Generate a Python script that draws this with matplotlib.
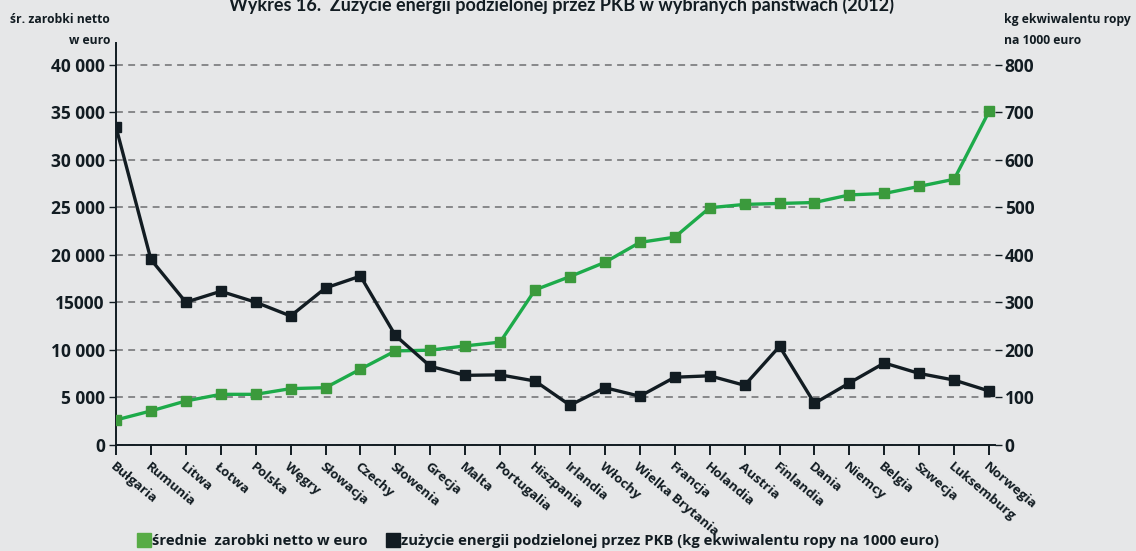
"""Energy use per GDP vs. average net earnings, selected countries (2012)."""
import matplotlib.pyplot as plt
from matplotlib.lines import Line2D
from matplotlib.ticker import FixedLocator, FixedFormatter

countries = [
    "Bułgaria", "Rumunia", "Litwa", "Łotwa", "Polska", "Węgry", "Słowacja",
    "Czechy", "Słowenia", "Grecja", "Malta", "Portugalia", "Hiszpania",
    "Irlandia", "Włochy", "Wielka Brytania", "Francja", "Holandia", "Austria",
    "Finlandia", "Dania", "Niemcy", "Belgia", "Szwecja", "Luksemburg", "Norwegia",
]
# average net earnings, euro
earnings = [
    2600, 3550, 4600, 5300, 5300, 5900, 6000, 7950, 9870, 9950, 10400, 10800,
    16300, 17700, 19200, 21300, 21850, 24950, 25300, 25400, 25500, 26300,
    26450, 27200, 27950, 35100,
]
# energy use per GDP, kg of oil equivalent per 1000 euro
energy = [
    669, 390, 300, 323, 300, 271, 330, 355, 230, 165, 146, 147, 134, 83,
    120, 102, 142, 145, 125, 207, 87, 130, 172, 150, 136, 113,
]

left_ticks = [0, 5000, 10000, 15000, 20000, 25000, 30000, 35000, 40000]
left_labels = ["0", "5 000", "10 000", "15000", "20 000", "25 000",
               "30 000", "35 000", "40 000"]
right_ticks = [0, 100, 200, 300, 400, 500, 600, 700, 800]

BG = "#e6e7e8"
DARK = "#121c22"
GREEN_LINE = "#1dab4a"
GREEN_MARK = "#3b9a3c"
FONT = ["Open Sans", "DejaVu Sans"]

plt.rcParams["font.family"] = FONT
plt.rcParams["font.weight"] = "bold"

fig = plt.figure(figsize=(11.36, 5.51), dpi=100, facecolor=BG)
ax = fig.add_axes([0.1021, 0.193, 0.7738, 0.729])
ax.set_facecolor(BG)
ax2 = ax.twinx()

x = range(len(countries))
ax.plot(x, earnings, color=GREEN_LINE, lw=2.4, marker="s", ms=6.5,
        mfc=GREEN_MARK, mec=GREEN_MARK, zorder=3)
ax2.plot(x, energy, color=DARK, lw=2.4, marker="s", ms=6.5,
         mfc=DARK, mec=DARK, zorder=3)

ax.set_xlim(0, 25.17)
ax.set_ylim(0, 42300)
ax2.set_ylim(0, 42300 / 50)

ax.yaxis.set_major_locator(FixedLocator(left_ticks))
ax.yaxis.set_major_formatter(FixedFormatter(left_labels))
ax2.set_yticks(right_ticks)
ax2.set_yticklabels([str(t) for t in right_ticks])

ax.set_xticks(list(x))
ax.set_xticklabels(countries, rotation=-40, ha="left", va="top",
                   rotation_mode="anchor", fontsize=9.6, color=DARK)

ax.grid(axis="y", color="#6d6e70", lw=1.1, ls=(0, (4.5, 3.5)))
ax.set_axisbelow(True)

for a in (ax, ax2):
    for s in ("top", "right"):
        a.spines[s].set_visible(False)
    a.spines["left"].set_visible(a is ax)
    a.spines["bottom"].set_visible(a is ax)
ax.spines["left"].set_color(DARK)
ax.spines["bottom"].set_color(DARK)
ax.spines["left"].set_linewidth(1.4)
ax.spines["bottom"].set_linewidth(1.4)

ax.tick_params(axis="y", length=5, width=1, color=DARK, labelsize=12.5,
               labelcolor=DARK, pad=3)
ax.tick_params(axis="x", length=7, width=1.4, color=DARK, pad=4)
ax2.tick_params(axis="y", length=5, width=1, color=DARK, labelsize=12.5,
                labelcolor=DARK, pad=2)

fig.text(0.494, 1 - 11 / 551,
         "Wykres 16.  Zużycie energii podzielonej przez PKB w wybranych państwach (2012)",
         ha="center", va="baseline", fontsize=13, weight="bold", color=DARK,
         family=["Lato", "DejaVu Sans"])
fig.text(110 / 1136, 1 - 13 / 551, "śr. zarobki netto\nw euro", ha="right",
         va="top", fontsize=8.7, color=DARK, linespacing=1.75)
fig.text(1004 / 1136, 1 - 13 / 551, "kg ekwiwalentu ropy\nna 1000 euro",
         ha="left", va="top", fontsize=8.7, color=DARK, linespacing=1.75)

handles = [
    Line2D([], [], ls="none", marker="s", ms=10, mfc="#58ac46", mec="#58ac46"),
    Line2D([], [], ls="none", marker="s", ms=10, mfc=DARK, mec=DARK),
]
fig.legend(handles,
           ["średnie  zarobki netto w euro",
            "zużycie energii podzielonej przez PKB (kg ekwiwalentu ropy na 1000 euro)"],
           loc="center", bbox_to_anchor=(0.474, 1 - 541 / 551), ncol=2,
           frameon=False, fontsize=10.65, handlelength=0.8, handletextpad=0.15,
           columnspacing=1.3, labelcolor=DARK)

fig.savefig("out.png", dpi=100, facecolor=BG)
